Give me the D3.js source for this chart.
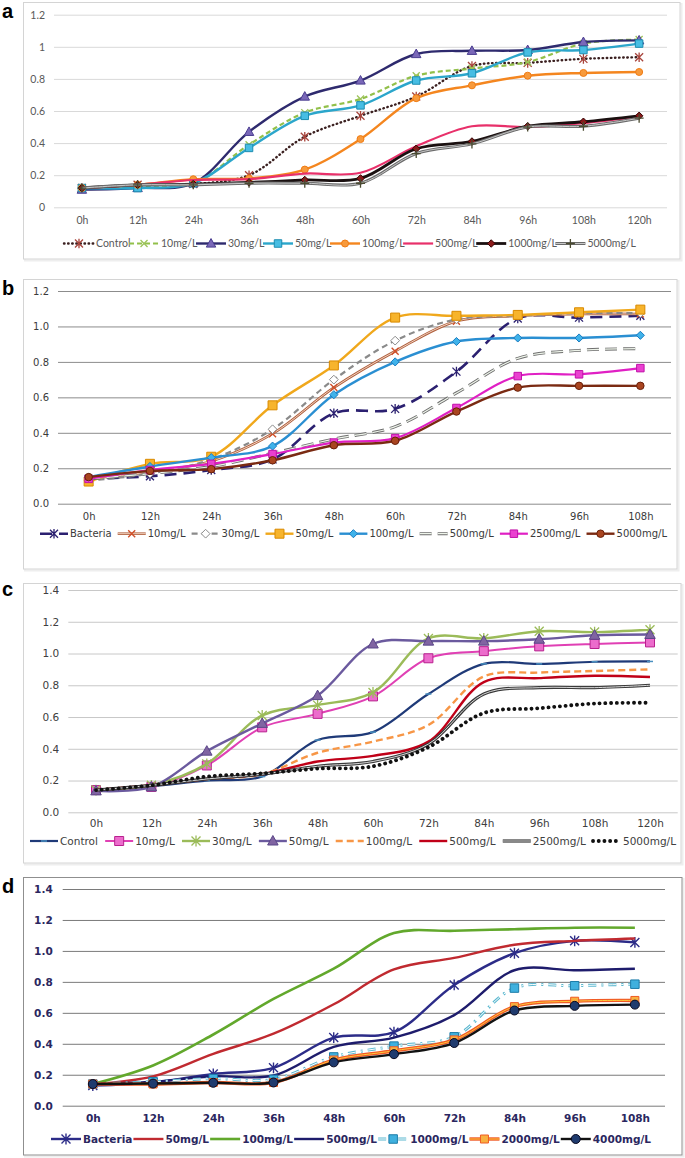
<!DOCTYPE html>
<html><head><meta charset="utf-8">
<script src="https://cdn.jsdelivr.net/npm/d3@7/dist/d3.min.js"></script>
<style>body{margin:0;background:#fff}svg{display:block}</style>
</head><body>
<svg id="chart" width="685" height="1158"></svg>
<script>
// ---------- categories & tick labels ----------
const hoursA = ["0h","12h","24h","36h","48h","60h","72h","84h","96h","108h","120h"];
const hoursB = ["0h","12h","24h","36h","48h","60h","72h","84h","96h","108h"];
const hoursC = ["0h","12h","24h","36h","48h","60h","72h","84h","96h","108h","120h"];
const hoursD = ["0h","12h","24h","36h","48h","60h","72h","84h","96h","108h"];
const yTicksA = ["0","0.2","0.4","0.6","0.8","1","1.2"];
const yTicksB = ["0.0","0.2","0.4","0.6","0.8","1.0","1.2"];
const yTicksC = ["0.0","0.2","0.4","0.6","0.8","1.0","1.2","1.4"];
const yTicksD = ["0.0","0.2","0.4","0.6","0.8","1.0","1.2","1.4"];

// ---------- panel a ----------
const namesA = ["Control","10mg/L","30mg/L","50mg/L","100mg/L","500mg/L","1000mg/L","5000mg/L"];
const aControl = [0.12,0.14,0.145,0.20,0.44,0.57,0.69,0.88,0.90,0.925,0.935];
const a10   = [0.12,0.13,0.15,0.39,0.59,0.675,0.82,0.865,0.905,1.02,1.045];
const a30   = [0.11,0.12,0.15,0.47,0.69,0.79,0.955,0.975,0.98,1.03,1.04];
const a50   = [0.12,0.12,0.15,0.37,0.57,0.635,0.79,0.835,0.965,0.98,1.02];
const a100  = [0.12,0.14,0.175,0.18,0.235,0.425,0.68,0.76,0.82,0.837,0.843];
const a500  = [0.12,0.14,0.17,0.175,0.21,0.215,0.38,0.505,0.50,0.525,0.565];
const a1000 = [0.12,0.14,0.145,0.155,0.17,0.18,0.365,0.41,0.505,0.533,0.57];
const a5000 = [0.12,0.14,0.14,0.15,0.15,0.15,0.335,0.395,0.50,0.505,0.555];

// ---------- panel b ----------
const namesB = ["Bacteria","10mg/L","30mg/L","50mg/L","100mg/L","500mg/L","2500mg/L","5000mg/L"];
const bBacteria = [0.14,0.155,0.19,0.25,0.51,0.535,0.745,1.045,1.05,1.06];
const b10   = [0.14,0.18,0.24,0.395,0.655,0.86,1.03,1.06,1.07,1.07];
const b30   = [0.13,0.17,0.25,0.42,0.70,0.92,1.04,1.06,1.075,1.075];
const b50   = [0.125,0.225,0.265,0.555,0.78,1.05,1.06,1.065,1.08,1.095];
const b100  = [0.15,0.21,0.26,0.325,0.615,0.80,0.915,0.935,0.935,0.95];
const b500  = [0.14,0.17,0.21,0.285,0.365,0.435,0.625,0.82,0.865,0.875];
const b2500 = [0.14,0.19,0.225,0.28,0.345,0.37,0.54,0.72,0.73,0.765];
const b5000 = [0.15,0.185,0.195,0.245,0.33,0.355,0.52,0.655,0.665,0.665];

// ---------- panel c ----------
const namesC = ["Control","10mg/L","30mg/L","50mg/L","100mg/L","500mg/L","2500mg/L","5000mg/L"];
const cControl = [0.14,0.165,0.20,0.225,0.455,0.505,0.745,0.935,0.935,0.948,0.95];
const c10   = [0.14,0.16,0.295,0.535,0.62,0.73,0.97,1.015,1.045,1.06,1.07];
const c30   = [0.14,0.17,0.305,0.61,0.675,0.755,1.095,1.095,1.14,1.135,1.15];
const c50   = [0.135,0.16,0.385,0.56,0.735,1.06,1.078,1.078,1.09,1.115,1.12];
const c100  = [0.14,0.17,0.21,0.24,0.375,0.445,0.55,0.855,0.88,0.89,0.90];
const c500  = [0.14,0.17,0.21,0.24,0.32,0.355,0.445,0.82,0.845,0.86,0.852];
const c2500 = [0.14,0.17,0.21,0.24,0.29,0.32,0.43,0.745,0.785,0.785,0.80];
const c5000 = [0.14,0.17,0.225,0.245,0.275,0.29,0.41,0.625,0.655,0.685,0.69];

// ---------- panel d ----------
const namesD = ["Bacteria","50mg/L","100mg/L","500mg/L","1000mg/L","2000mg/L","4000mg/L"];
const dBacteria = [0.13,0.15,0.205,0.245,0.44,0.475,0.78,0.985,1.065,1.055];
const d50   = [0.14,0.19,0.335,0.465,0.655,0.88,0.955,1.04,1.065,1.08];
const d100  = [0.14,0.26,0.46,0.69,0.885,1.115,1.13,1.14,1.15,1.15];
const d500  = [0.14,0.155,0.19,0.195,0.38,0.44,0.585,0.875,0.875,0.885];
const d1000 = [0.14,0.155,0.175,0.17,0.315,0.385,0.445,0.76,0.775,0.785];
const d2000 = [0.14,0.14,0.15,0.15,0.295,0.355,0.425,0.64,0.675,0.68];
const d4000 = [0.14,0.143,0.148,0.15,0.28,0.333,0.405,0.615,0.645,0.653];

// ---------- styles ----------
const stylesA = [
  {color:"#3b2020",width:2.4,dash:"0.5,3.6",cap:"round",marker:{type:"star",size:8,stroke:"#a8443c",sw:1.3}},
  {color:"#92c04a",width:2.2,dash:"5,3",marker:{type:"x",size:7,stroke:"#9dc35a",sw:1.3}},
  {color:"#2e2a6e",width:2.4,marker:{type:"tri",size:9,fill:"#7a68b8",stroke:"#4a3d90"}},
  {color:"#2ba6cb",width:2.4,marker:{type:"sq",size:7.5,fill:"#47bde3",stroke:"#1d8db0"}},
  {color:"#f4861f",width:2.4,marker:{type:"circ",size:7,fill:"#f79a3c",stroke:"#f07c14"}},
  {color:"#e8306a",width:2.2},
  {color:"#1a1010",width:2.8,marker:{type:"diam",size:6,fill:"#8b1a1a",stroke:"#300"}},
  {color:"#6b6b6b",width:3,inner:{color:"#c8c8c8",width:1},marker:{type:"plus",size:9,stroke:"#4a4a30",sw:1.3}}
];
const stylesB = [
  {color:"#2b2070",width:2.6,dash:"12,7",marker:{type:"star",size:8,stroke:"#2b2070",sw:1.3}},
  {color:"#b0603e",width:2.6,inner:{color:"#f8e0d0",width:0.9},marker:{type:"x",size:7,stroke:"#d0502a",sw:1.4}},
  {color:"#8a8a8a",width:2.2,dash:"6,4",marker:{type:"diam",size:7,fill:"#fff",stroke:"#8a8a8a"}},
  {color:"#f0a81c",width:2.4,marker:{type:"sq",size:9,fill:"#f7b42c",stroke:"#d98a00"}},
  {color:"#2a8fd2",width:2.4,marker:{type:"diam",size:6.5,fill:"#3fb2ea",stroke:"#1a7cc0"}},
  {color:"#6e6e6e",width:3,dash:"12,6",inner:{color:"#eef4ea",width:1.2}},
  {color:"#e020c4",width:2.2,marker:{type:"sq",size:7.5,fill:"#ea40d0",stroke:"#c010a8"}},
  {color:"#7a2a12",width:2.4,marker:{type:"circ",size:7.5,fill:"#a94520",stroke:"#6a200a"}}
];
const stylesC = [
  {color:"#1f3a78",width:2.2,marker:{type:"dash",size:6,stroke:"#4a90c0",sw:1.5}},
  {color:"#e040b4",width:2,marker:{type:"sq",size:9,fill:"#ec6ccc",stroke:"#b8208e"}},
  {color:"#9bbb59",width:2.4,marker:{type:"star",size:9,stroke:"#9bbb59",sw:1.3}},
  {color:"#6b5a9e",width:2.4,marker:{type:"tri",size:10,fill:"#8064a2",stroke:"#5a4688"}},
  {color:"#f79646",width:2.4,dash:"7,4"},
  {color:"#c00018",width:2.4},
  {color:"#3a3a3a",width:3.2,inner:{color:"#d8d8d8",width:1}},
  {color:"#111111",width:3.8,dash:"0.1,5.6",cap:"round"}
];
const stylesD = [
  {color:"#2c2c88",width:2.4,marker:{type:"star",size:9,stroke:"#2c2c88",sw:1.4}},
  {color:"#c02a30",width:2.4},
  {color:"#62a82c",width:2.6},
  {color:"#1e1c6c",width:2.4},
  {color:"#5bb8d0",width:3,dash:"8,5,2,5",inner:{color:"#ffffff",width:1},marker:{type:"sq",size:8.5,fill:"#3fb0de",stroke:"#1c7ca8"}},
  {color:"#f05a24",width:3.4,inner:{color:"#ffc83c",width:1},marker:{type:"sq",size:8,fill:"#f8b040",stroke:"#f05a24"}},
  {color:"#121212",width:2.4,marker:{type:"circ",size:9,fill:"#1f3b6e",stroke:"#0a0a20"}}
];

const panels = [
  {label:"a",labelY:18,frame:[23.5,2.5,680,259],frameColor:"#d4d4d4",gx:[54,667],gy:[207.3,14.7],
   ticks:yTicksA,cats:hoursA,names:namesA,data:[aControl,a10,a30,a50,a100,a500,a1000,a5000],styles:stylesA,
   xLabY:221,legY:243.5,legSpan:[64,636],sw:30,font:"Lato",fs:10.5,fw:"normal",tc:"#595959",grid:"#d9d9d9",pad:9},
  {label:"b",labelY:295,frame:[23.5,279.5,677,569],frameColor:"#d4d4d4",gx:[58,671],gy:[503.7,291],
   ticks:yTicksB,cats:hoursB,names:namesB,data:[bBacteria,b10,b30,b50,b100,b500,b2500,b5000],styles:stylesB,
   xLabY:516.5,legY:533.7,legSpan:[40,667],sw:28,font:"DejaVu Sans",fs:10,fw:"normal",tc:"#3a3a3a",grid:"#8c8c8c",pad:9},
  {label:"c",labelY:596,frame:[23.5,583.5,681,863],frameColor:"#d4d4d4",gx:[68.3,677.7],gy:[812.3,590],
   ticks:yTicksC,cats:hoursC,names:namesC,data:[cControl,c10,c30,c50,c100,c500,c2500,c5000],styles:stylesC,
   xLabY:824,legY:841,legSpan:[30,676],sw:28,font:"DejaVu Sans",fs:10.5,fw:"normal",tc:"#404040",grid:"#c8c8c8",pad:9},
  {label:"d",labelY:893,frame:[23.5,877.5,682,1155],frameColor:"#8f8f8f",gx:[62.7,665],gy:[1105.7,889],
   ticks:yTicksD,cats:hoursD,names:namesD,data:[dBacteria,d50,d100,d500,d1000,d2000,d4000],styles:stylesD,
   xLabY:1119,legY:1139,legSpan:[51,651],sw:30,font:"DejaVu Sans",fs:10.5,fw:"bold",tc:"#2b2760",grid:"#7a7a7a",pad:10}
];

const svg = d3.select("#chart");

function markerD(type, s){
  const h = s/2;
  switch(type){
    case "tri": return `M0,${-h*1.1}L${h*1.05},${h*0.8}L${-h*1.05},${h*0.8}Z`;
    case "sq": return `M${-h},${-h}H${h}V${h}H${-h}Z`;
    case "diam": return `M0,${-h*1.25}L${h*1.25},0L0,${h*1.25}L${-h*1.25},0Z`;
    case "circ": return `M${-h},0A${h},${h} 0 1,0 ${h},0A${h},${h} 0 1,0 ${-h},0Z`;
    case "x": return `M${-h},${-h}L${h},${h}M${-h},${h}L${h},${-h}`;
    case "star": return `M${-h},${-h}L${h},${h}M${-h},${h}L${h},${-h}M0,${-h*1.2}V${h*1.2}`;
    case "plus": return `M${-h},0H${h}M0,${-h}V${h}`;
    case "dash": return `M${-h},0H${h}`;
  }
}
function drawMarker(g, m, x, y){
  const open = ["x","star","plus","dash"].includes(m.type);
  g.append("path").attr("d", markerD(m.type, m.size))
    .attr("transform", `translate(${x},${y})`)
    .attr("fill", open ? "none" : m.fill)
    .attr("stroke", m.stroke).attr("stroke-width", m.sw || 1);
}
function strokePath(g, d, st){
  g.append("path").attr("d", d).attr("fill","none")
    .attr("stroke", st.color).attr("stroke-width", st.width)
    .attr("stroke-dasharray", st.dash || null)
    .attr("stroke-linecap", st.cap || "butt").attr("stroke-linejoin","round");
  if (st.inner){
    g.append("path").attr("d", d).attr("fill","none")
      .attr("stroke", st.inner.color).attr("stroke-width", st.inner.width)
      .attr("stroke-dasharray", st.dash || null).attr("stroke-linejoin","round");
  }
}

panels.forEach(p => {
  const g = svg.append("g");
  const [fx0, fy0, fx1, fy1] = p.frame;
  g.append("rect").attr("x", fx0+1.5).attr("y", fy0+1.5).attr("width", fx1-fx0).attr("height", fy1-fy0)
    .attr("fill","none").attr("stroke","#eeeeee").attr("stroke-width",2);
  g.append("rect").attr("x", fx0).attr("y", fy0).attr("width", fx1-fx0).attr("height", fy1-fy0)
    .attr("fill","#fff").attr("stroke", p.frameColor).attr("stroke-width",1);
  g.append("text").attr("x", 2).attr("y", p.labelY).text(p.label)
    .attr("font-family","Liberation Sans, Arial, sans-serif").attr("font-weight","bold")
    .attr("font-size", 20).attr("fill","#000");

  const tickVals = p.ticks.map(Number);
  const yMax = d3.max(tickVals);
  const x = d3.scalePoint().domain(p.cats).range(p.gx).padding(0.5);
  const y = d3.scaleLinear().domain([0, yMax]).range(p.gy);
  const W = p.gx[1] - p.gx[0];

  const yAx = g.append("g").attr("transform", `translate(${p.gx[0]},0)`)
    .call(d3.axisLeft(y).tickValues(tickVals).tickSize(-W).tickPadding(p.pad)
      .tickFormat((d,i) => p.ticks[i]));
  yAx.select(".domain").remove();
  yAx.selectAll("line").attr("stroke", p.grid).attr("stroke-width",1);
  yAx.selectAll("text").attr("font-family", p.font).attr("font-size", p.fs)
    .attr("font-weight", p.fw).attr("fill", p.tc);

  const xAx = g.append("g").attr("transform", `translate(0,${p.xLabY})`)
    .call(d3.axisBottom(x).tickSize(0).tickPadding(0));
  xAx.select(".domain").remove();
  xAx.selectAll("text").attr("font-family", p.font).attr("font-size", p.fs)
    .attr("font-weight", p.fw).attr("fill", p.tc).attr("dy","0.32em");

  const line = d3.line().x((d,i) => x(p.cats[i])).y(d => y(d)).curve(d3.curveCatmullRom.alpha(0.5));
  const sg = g.append("g");
  p.data.forEach((vals, si) => {
    const st = p.styles[si];
    const lg = sg.append("g");
    strokePath(lg, line(vals), st);
    if (st.marker) vals.forEach((v,i) => drawMarker(lg, st.marker, x(p.cats[i]), y(v)));
  });

  // legend
  const leg = g.append("g");
  const items = p.names.map((nm, si) => {
    const st = p.styles[si];
    const e = leg.append("g");
    strokePath(e, `M0,0H${p.sw}`, st);
    if (st.marker) drawMarker(e, st.marker, p.sw/2, 0);
    const t = e.append("text").attr("x", p.sw + 2).attr("y", 0).attr("dy","0.35em").text(nm)
      .attr("font-family", p.font).attr("font-size", p.fs).attr("font-weight", p.fw).attr("fill", p.tc);
    return {e, w: p.sw + 2 + t.node().getComputedTextLength()};
  });
  const natural = d3.sum(items, d => d.w);
  const gap = (p.legSpan[1] - p.legSpan[0] - natural) / (items.length - 1);
  let cx = p.legSpan[0];
  items.forEach(it => { it.e.attr("transform", `translate(${cx},${p.legY})`); cx += it.w + gap; });
});
</script>
</body></html>
